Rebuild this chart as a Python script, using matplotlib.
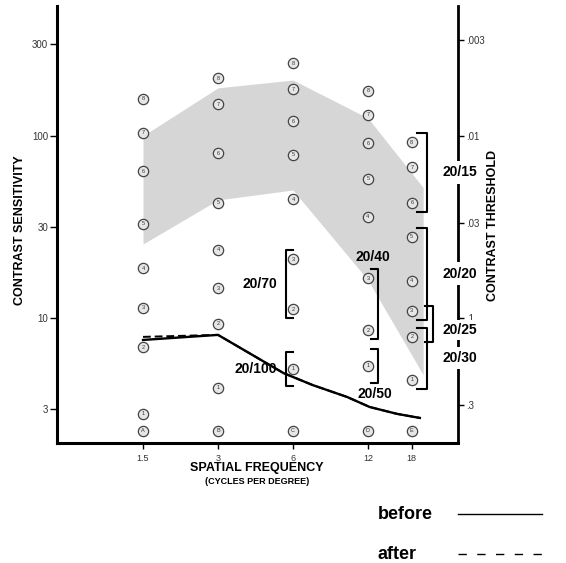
import matplotlib
matplotlib.use('Agg')
import matplotlib.pyplot as plt
import numpy as np
from matplotlib.lines import Line2D
from matplotlib.ticker import NullLocator
from matplotlib.transforms import IdentityTransform

plt.rcParams['font.family'] = ['Liberation Sans', 'DejaVu Sans']

# test patches: spatial frequency columns, patch sensitivities 1..8
freqs = [1.5, 3, 6, 12, 18]
freq_labels = ['1.5', '3', '6', '12', '18']
column_letters = ['A', 'B', 'C', 'D', 'E']
col_a = [2.99, 6.95, 11.4, 18.8, 33, 64, 104, 159]
col_b = [4.15, 9.3, 14.6, 23.7, 43, 80, 149, 207]
col_c = [5.27, 11.2, 21.1, 45, 78.5, 120, 180, 250]
col_d = [5.5, 8.6, 16.6, 35.9, 58, 91, 130, 176]
col_e = [4.6, 7.9, 11, 16, 28, 43, 67, 92]
columns = [col_a, col_b, col_c, col_d, col_e]
letter_row_cs = 2.42

# normal population range
norm_freq = [1.5, 3, 6, 12, 20]
norm_hi = [100, 183, 202, 125, 52]
norm_lo = [25.5, 44.5, 50.4, 16.2, 4.9]

# patient curves
before_freq = [1.5, 3, 5.5, 7.2, 9.9, 12.2, 15.7, 19.4]
before_cs = [7.6, 8.1, 5.0, 4.3, 3.7, 3.26, 2.99, 2.84]
after_freq = [1.5, 3, 5.5, 7.2, 9.9, 12.2, 15.7, 19.4]
after_cs = [7.9, 8.1, 5.0, 4.3, 3.7, 3.26, 2.99, 2.84]

# Snellen equivalents: column, first and last patch of the group
acuity_labels = ['20/100', '20/70', '20/50', '20/40', '20/30', '20/25', '20/20', '20/15']
acuity_freq = [6, 6, 12, 12, 18, 18, 18, 18]
acuity_patches = [(1, 1), (2, 3), (1, 1), (2, 3), (1, 2), (2, 3), (3, 5), (6, 8)]

cs_ticks = 10 ** np.arange(0.5, 3.0, 0.5)
cs_tick_labels = ['3', '10', '30', '100', '300']
thresholds = [0.003, 0.01, 0.03, 0.1, 0.3]
threshold_labels = ['.003', '.01', '.03', '.1', '.3']

fig = plt.figure(figsize=(5.66, 5.63), dpi=100)
ax = fig.add_axes([57 / 566, 120 / 563, 401 / 566, 437 / 563])
ax.set_xscale('log', base=2)
ax.set_yscale('log')
ax.set_xlim(0.677, 27.6)
ax.set_ylim(2.07, 514)

ax.fill_between(norm_freq, norm_lo, norm_hi, color='#d6d6d6', lw=0, zorder=1)

ax.plot(before_freq, before_cs, color='black', lw=1.7, zorder=2)
ax.plot(after_freq, after_cs, color='black', lw=1.4, ls=(0, (4, 2)), zorder=2)

for f, col, letter in zip(freqs, columns, column_letters):
    ys = col + [letter_row_cs]
    ax.scatter([f] * len(ys), ys, s=55, facecolor='#e6e6e6', edgecolor='#444444',
               linewidth=0.9, zorder=3)
    for i, y in enumerate(col):
        ax.text(f, y, str(i + 1), fontsize=4, ha='center', va='center',
                color='#333333', zorder=4)
    ax.text(f, letter_row_cs, letter, fontsize=4, ha='center', va='center',
            color='#333333', zorder=4)

ax.set_xticks(freqs)
ax.set_xticklabels(freq_labels)
ax.set_yticks(cs_ticks)
ax.set_yticklabels(cs_tick_labels)
ax.xaxis.set_minor_locator(NullLocator())
ax.yaxis.set_minor_locator(NullLocator())
ax.tick_params(axis='x', length=4, width=1, labelsize=6.5, pad=4, labelcolor='#333333')
ax.tick_params(axis='y', length=5, width=1, labelsize=7, pad=1.5, labelcolor='#333333')

ax2 = ax.twinx()
ax2.set_yscale('log')
ax2.set_ylim(ax.get_ylim())
ax2.set_yticks([1 / t for t in thresholds])
ax2.set_yticklabels(threshold_labels)
ax2.yaxis.set_minor_locator(NullLocator())
ax2.tick_params(axis='y', length=4, width=1, labelsize=7, pad=1.5, labelcolor='#333333')

for a in (ax, ax2):
    a.spines['top'].set_visible(False)
ax.spines['right'].set_visible(False)
ax2.spines['left'].set_visible(False)
ax2.spines['bottom'].set_visible(False)
ax.spines['left'].set_linewidth(2.2)
ax.spines['bottom'].set_linewidth(2.2)
ax2.spines['right'].set_linewidth(2.0)


def draw_bracket(f, lo, hi, dx, pad, arm):
    x0, y_lo = ax.transData.transform((f, lo))
    _, y_hi = ax.transData.transform((f, hi))
    xb = x0 + dx
    xa = xb - arm if dx > 0 else xb + arm
    y0, y1 = y_lo - pad, y_hi + pad
    ax2.plot([xa, xb, xb, xa], [y1, y1, y0, y0], transform=IdentityTransform(),
             color='black', lw=1.5, clip_on=False, zorder=5)
    return xb, y0, y1


spine_x = ax.transAxes.transform((1, 0))[0]
col_lookup = dict(zip(freqs, columns))
for label, f, (p_lo, p_hi) in zip(acuity_labels, acuity_freq, acuity_patches):
    lo = col_lookup[f][p_lo - 1]
    hi = col_lookup[f][p_hi - 1]
    pad = 17 if p_lo == p_hi else 9
    kw = dict(transform=IdentityTransform(), fontsize=10, fontweight='bold',
              va='center', clip_on=False, zorder=6)
    if f == 6:
        xb, y0, y1 = draw_bracket(f, lo, hi, -7, pad, 7)
        ax2.text(xb - 9, (y0 + y1) / 2, label, ha='right', **kw)
    elif f == 12:
        xb, y0, y1 = draw_bracket(f, lo, hi, 10, pad, 7)
        if p_lo == 1:
            ax2.text(xb - 3, y0 - 11, label, ha='center', **kw)
        else:
            ax2.text(xb - 5, y1 + 12, label, ha='center', **kw)
    else:
        if label == '20/25':
            xb, y0, y1 = draw_bracket(f, lo, hi, 21, 5, 8)
            ym = (y0 + y1) / 2 - 6
            box_pad = 0.2
        else:
            xb, y0, y1 = draw_bracket(f, lo, hi, 15, pad, 10)
            ym = (y0 + y1) / 2
            box_pad = 0.3
        ax2.text(spine_x + 2, ym, label, ha='center',
                 bbox=dict(boxstyle=f'square,pad={box_pad}', fc='white', ec='none'), **kw)

fig.text(20 / 566, 1 - 230 / 563, 'CONTRAST SENSITIVITY', rotation=90, ha='center',
         va='center', fontsize=9, fontweight='bold')
fig.text(493 / 566, 1 - 225 / 563, 'CONTRAST THRESHOLD', rotation=90, ha='center',
         va='center', fontsize=9, fontweight='bold')
fig.text(257 / 566, 1 - 468 / 563, 'SPATIAL FREQUENCY', ha='center', va='center',
         fontsize=9, fontweight='bold')
fig.text(257 / 566, 1 - 481 / 563, '(CYCLES PER DEGREE)', ha='center', va='center',
         fontsize=6.5, fontweight='bold')

# key
fig.text(378 / 566, 1 - 519 / 563, 'before', ha='left', va='baseline',
         fontsize=13, fontweight='bold')
fig.text(378 / 566, 1 - 559 / 563, 'after', ha='left', va='baseline',
         fontsize=13, fontweight='bold')
fig.add_artist(Line2D([458 / 566, 542 / 566], [1 - 514 / 563] * 2,
                      transform=fig.transFigure, color='black', lw=1.0))
fig.add_artist(Line2D([458 / 566, 542 / 566], [1 - 554 / 563] * 2,
                      transform=fig.transFigure, color='black', lw=1.0,
                      ls=(0, (6, 7.5))))

fig.savefig('out.png', dpi=100)
